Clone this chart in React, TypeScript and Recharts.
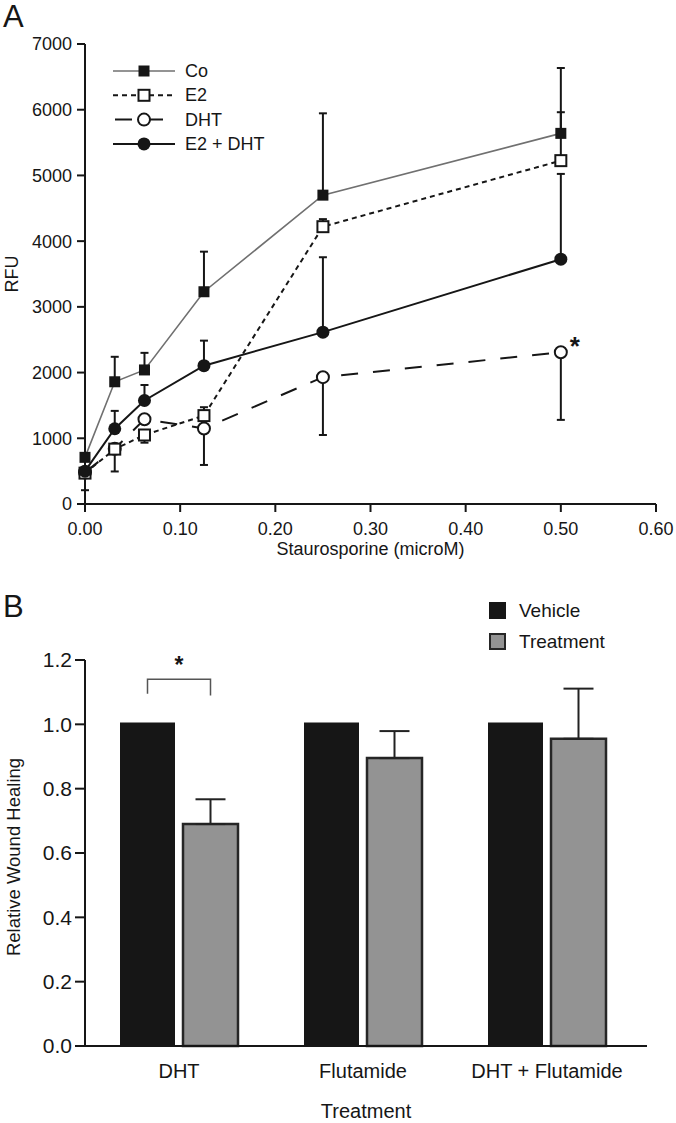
import React from 'react';
import { LineChart, Line, XAxis, YAxis, ErrorBar, BarChart, Bar, LabelList } from 'recharts';

const FONT = '"Liberation Sans", Arial, Helvetica, sans-serif';
const INK = '#161616';

// ---------- Panel A data ----------
const concentrations = [0, 0.03125, 0.0625, 0.125, 0.25, 0.5];
const xTicksA = [0, 0.1, 0.2, 0.3, 0.4, 0.5, 0.6];
const yTicksA = [0, 1000, 2000, 3000, 4000, 5000, 6000, 7000];

const coValues = [710, 1860, 2040, 3230, 4700, 5640];
const coErrLow = [0, 0, 0, 0, 0, 0];
const coErrHigh = [0, 380, 260, 610, 1245, 995];

const e2Values = [470, 835, 1050, 1345, 4220, 5225];
const e2ErrLow = [0, 340, 117, 0, 0, 0];
const e2ErrHigh = [0, 0, 0, 128, 115, 737];

const dhtValues = [480, 840, 1290, 1150, 1930, 2310];
const dhtErrLow = [270, 0, 0, 556, 880, 1030];
const dhtErrHigh = [0, 0, 0, 0, 0, 0];
const dhtSignificance = ['', '', '', '', '', '*'];

const e2dhtValues = [500, 1145, 1575, 2105, 2615, 3725];
const e2dhtErrLow = [0, 0, 0, 0, 0, 0];
const e2dhtErrHigh = [0, 272, 236, 381, 1140, 1298];

const seriesKeys = ['co', 'e2', 'dht', 'e2dht'];
const seriesNames = ['Co', 'E2', 'DHT', 'E2 + DHT'];

// ---------- Panel B data ----------
const treatments = ['DHT', 'Flutamide', 'DHT + Flutamide'];
const vehicleValues = [1.006, 1.006, 1.006];
const treatmentValues = [0.69, 0.895, 0.955];
const treatmentErr = [0.077, 0.084, 0.156];
const barSignificance = ['*', '', ''];
const bracketTop = 1.14;
const bracketLegLeft = 1.095;
const bracketLegRight = 1.09;
const yTicksB = [0, 0.2, 0.4, 0.6, 0.8, 1.0, 1.2];
const barSeriesNames = ['Vehicle', 'Treatment'];

const lineData = concentrations.map((x, i) => ({
  x,
  co: coValues[i],
  coErr: [coErrLow[i], coErrHigh[i]],
  e2: e2Values[i],
  e2Err: [e2ErrLow[i], e2ErrHigh[i]],
  dht: dhtValues[i],
  dhtErr: [dhtErrLow[i], dhtErrHigh[i]],
  dhtSig: dhtSignificance[i],
  e2dht: e2dhtValues[i],
  e2dhtErr: [e2dhtErrLow[i], e2dhtErrHigh[i]],
}));

const barData = treatments.map((name, i) => ({
  name,
  vehicle: vehicleValues[i],
  treatment: treatmentValues[i],
  err: [0, treatmentErr[i]],
  sig: barSignificance[i],
}));

const seriesStyle: Record<string, any> = {
  co: { stroke: '#707070', width: 1.6, dash: undefined, marker: 'filledSquare' },
  e2: { stroke: INK, width: 2, dash: '5 4', marker: 'openSquare' },
  dht: { stroke: INK, width: 2, dash: '17 15', marker: 'openCircle' },
  e2dht: { stroke: INK, width: 2, dash: undefined, marker: 'filledCircle' },
};

function Marker({ kind, cx, cy }: { kind: string; cx: number; cy: number }) {
  switch (kind) {
    case 'filledSquare':
      return <rect x={cx - 5.5} y={cy - 5.5} width={11} height={11} fill={INK} />;
    case 'openSquare':
      return <rect x={cx - 5.5} y={cy - 5.5} width={11} height={11} fill="#fff" stroke={INK} strokeWidth={2} />;
    case 'openCircle':
      return <circle cx={cx} cy={cy} r={6} fill="#fff" stroke={INK} strokeWidth={2} />;
    default:
      return <circle cx={cx} cy={cy} r={6.5} fill={INK} />;
  }
}

const makeDot = (key: string) => (p: any) => {
  if (p.cx == null || p.cy == null) return <g key={`${key}-${p.index}`} />;
  return (
    <g key={`${key}-${p.index}`}>
      <Marker kind={seriesStyle[key].marker} cx={p.cx} cy={p.cy} />
    </g>
  );
};

const renderStar = (p: any) => {
  if (!p.value) return null;
  return (
    <text x={p.x + 14} y={p.y + 3} textAnchor="middle" fontSize={26} fontWeight="bold" fontFamily={FONT} fill={INK}>
      {p.value}
    </text>
  );
};

const tickA = { fontSize: 18, fill: INK, fontFamily: FONT };
const tickB = { fontSize: 21, fill: INK, fontFamily: FONT };

function LegendA() {
  return (
    <svg width={220} height={110} style={{ position: 'absolute', left: 100, top: 55 }}>
      {seriesKeys.map((k, i) => {
        const y = 16 + i * 24.3;
        const s = seriesStyle[k];
        const x1 = k === 'dht' ? 15 : 13;
        const x2 = k === 'dht' ? 63 : 75;
        return (
          <g key={k}>
            <line x1={x1} x2={x2} y1={y} y2={y} stroke={s.stroke} strokeWidth={s.width} strokeDasharray={s.dash} />
            <Marker kind={s.marker} cx={44} cy={y} />
            <text x={85} y={y} dominantBaseline="central" fontSize={18} fontFamily={FONT} fill={INK}>
              {seriesNames[i]}
            </text>
          </g>
        );
      })}
    </svg>
  );
}

function LegendB() {
  return (
    <svg width={180} height={70} style={{ position: 'absolute', left: 480, top: 592 }}>
      {barSeriesNames.map((n, i) => {
        const y = 18.5 + i * 31;
        return (
          <g key={n}>
            {i === 0 ? (
              <rect x={9} y={y - 8.5} width={17} height={17} fill={INK} />
            ) : (
              <rect x={10} y={y - 7.5} width={15} height={15} fill="#939393" stroke="#262626" strokeWidth={2} />
            )}
            <text x={39} y={y} dominantBaseline="central" fontSize={19} fontFamily={FONT} fill={INK}>
              {n}
            </text>
          </g>
        );
      })}
    </svg>
  );
}

const renderBracket = (p: any) => {
  const { x, y, width, height, index, value } = p;
  if (!value) return null;
  const base = y + height;
  const pxPerUnit = height / vehicleValues[index];
  const leftX = x + width / 2;
  const rightX = x + width + 8 + width / 2;
  const top = base - bracketTop * pxPerUnit;
  const legL = base - bracketLegLeft * pxPerUnit;
  const legR = base - bracketLegRight * pxPerUnit;
  return (
    <g>
      <path d={`M${leftX},${legL} L${leftX},${top} L${rightX},${top} L${rightX},${legR}`} fill="none" stroke="#555" strokeWidth={1.5} />
      <text x={(leftX + rightX) / 2} y={top - 6} textAnchor="middle" fontSize={23} fontWeight="bold" fontFamily={FONT} fill={INK}>
        {value}
      </text>
    </g>
  );
};

export default function App() {
  return (
    <div style={{ position: 'absolute', left: 0, top: 0, width: 676, height: 1123, background: '#fff', fontFamily: FONT }}>
      <div style={{ position: 'absolute', left: 3, top: 1, fontSize: 31, lineHeight: '31px', color: INK }}>A</div>
      <div style={{ position: 'absolute', left: 3, top: 591, fontSize: 31, lineHeight: '31px', color: INK }}>B</div>

      <div style={{ position: 'absolute', left: 0, top: 0 }}>
        <LineChart width={676} height={575} data={lineData} margin={{ top: 44, right: 20, bottom: 20, left: 0 }}>
          <XAxis
            dataKey="x"
            type="number"
            domain={[0, 0.6]}
            ticks={xTicksA}
            tickFormatter={(v: number) => v.toFixed(2)}
            tick={tickA}
            tickSize={8}
            tickMargin={10}
            height={51}
            axisLine={{ stroke: INK, strokeWidth: 2 }}
            tickLine={{ stroke: INK, strokeWidth: 2 }}
            label={{ value: 'Staurosporine (microM)', position: 'insideBottom', offset: 0, fontSize: 18, fill: INK, fontFamily: FONT }}
          />
          <YAxis
            type="number"
            domain={[0, 7000]}
            ticks={yTicksA}
            tick={tickA}
            tickSize={8}
            tickMargin={5}
            width={85}
            axisLine={{ stroke: INK, strokeWidth: 2 }}
            tickLine={{ stroke: INK, strokeWidth: 2 }}
            label={(p: any) => {
              const vb = p.viewBox || { y: 44, height: 460 };
              const cy = vb.y + vb.height / 2;
              return (
                <text x={12} y={cy} transform={`rotate(-90 12 ${cy})`} textAnchor="middle" dominantBaseline="central" fontSize={18} fontFamily={FONT} fill={INK}>
                  RFU
                </text>
              );
            }}
          />
          {seriesKeys.map((k) => (
            <Line key={`err-${k}`} dataKey={k} stroke="none" dot={false} activeDot={false} isAnimationActive={false} legendType="none">
              <ErrorBar dataKey={`${k}Err`} width={4} strokeWidth={2} stroke={INK} direction="y" isAnimationActive={false} />
            </Line>
          ))}
          {['co', 'dht', 'e2', 'e2dht'].map((k) => (
            <Line
              key={k}
              dataKey={k}
              name={seriesNames[seriesKeys.indexOf(k)]}
              stroke={seriesStyle[k].stroke}
              strokeWidth={seriesStyle[k].width}
              strokeDasharray={seriesStyle[k].dash}
              dot={makeDot(k)}
              activeDot={false}
              isAnimationActive={false}
            >
              {k === 'dht' ? <LabelList dataKey="dhtSig" content={renderStar} /> : null}
            </Line>
          ))}
        </LineChart>
      </div>
      <LegendA />

      <div style={{ position: 'absolute', left: 0, top: 580 }}>
        <BarChart width={676} height={543} data={barData} margin={{ top: 80, right: 29, bottom: 5, left: 0 }} barCategoryGap={33} barGap={8}>
          <XAxis
            dataKey="name"
            tickLine={false}
            tickSize={0}
            tickMargin={18}
            padding={{ left: 2, right: 8 }}
            tick={{ fontSize: 20, fill: INK, fontFamily: FONT }}
            height={72}
            axisLine={{ stroke: INK, strokeWidth: 2 }}
            label={{ value: 'Treatment', position: 'insideBottom', offset: 0, fontSize: 20, fill: INK, fontFamily: FONT }}
          />
          <YAxis
            type="number"
            domain={[0, 1.2]}
            ticks={yTicksB}
            tickFormatter={(v: number) => v.toFixed(1)}
            tick={tickB}
            tickSize={10}
            tickMargin={3}
            width={85}
            axisLine={{ stroke: INK, strokeWidth: 2 }}
            tickLine={{ stroke: INK, strokeWidth: 2 }}
            label={(p: any) => {
              const vb = p.viewBox || { y: 80, height: 386 };
              const cy = vb.y + vb.height / 2 + 4;
              return (
                <text x={13} y={cy} transform={`rotate(-90 13 ${cy})`} textAnchor="middle" dominantBaseline="central" fontSize={18.5} fontFamily={FONT} fill={INK}>
                  Relative Wound Healing
                </text>
              );
            }}
          />
          <Bar dataKey="vehicle" name={barSeriesNames[0]} fill={INK} isAnimationActive={false}>
            <LabelList dataKey="sig" content={renderBracket} />
          </Bar>
          <Bar dataKey="treatment" name={barSeriesNames[1]} fill="#939393" stroke="#262626" strokeWidth={2.5} isAnimationActive={false}>
            <ErrorBar dataKey="err" width={15} strokeWidth={2} stroke="#222" direction="y" isAnimationActive={false} />
          </Bar>
        </BarChart>
      </div>
      <LegendB />
    </div>
  );
}
